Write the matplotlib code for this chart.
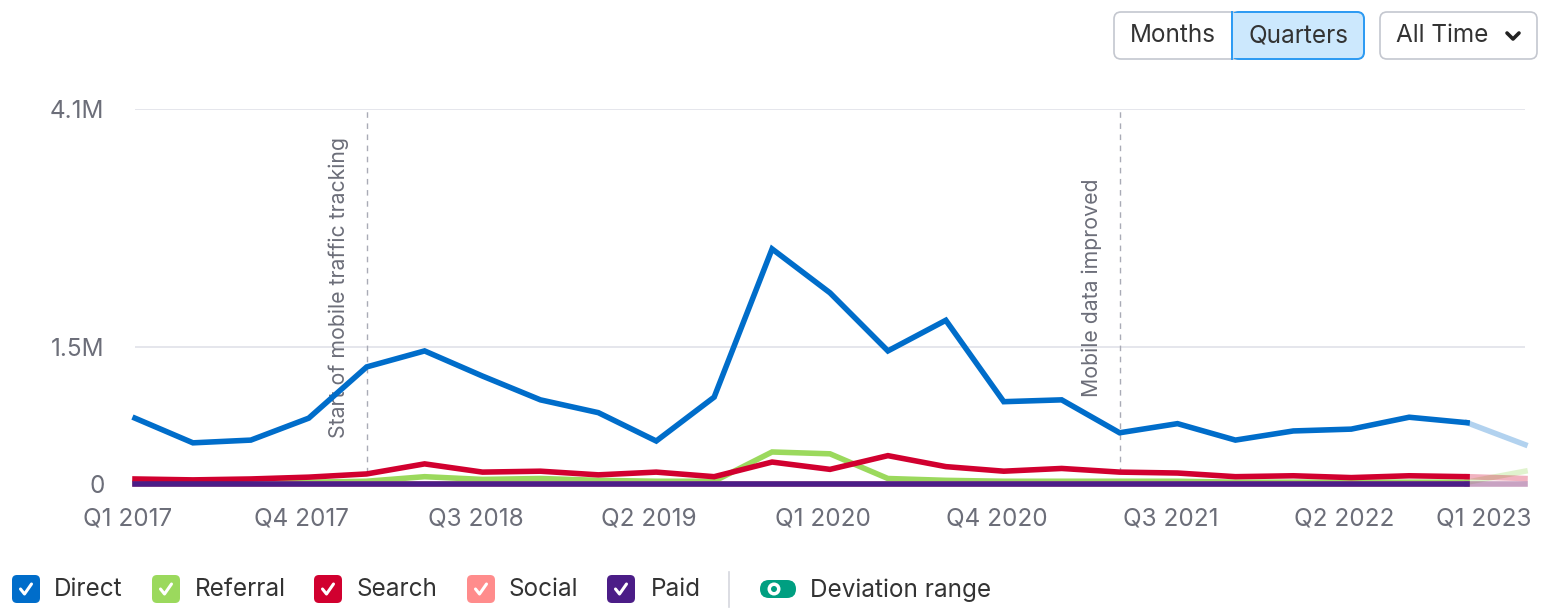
import matplotlib.pyplot as plt
import matplotlib.transforms as mtrans
from matplotlib.patches import FancyBboxPatch, Circle, Rectangle

plt.rcParams['font.family'] = ['Inter', 'DejaVu Sans']

# ---------------- data (millions) ----------------
quarters = ['Q1 2017', 'Q2 2017', 'Q3 2017', 'Q4 2017', 'Q1 2018', 'Q2 2018', 'Q3 2018',
            'Q4 2018', 'Q1 2019', 'Q2 2019', 'Q3 2019', 'Q4 2019', 'Q1 2020', 'Q2 2020',
            'Q3 2020', 'Q4 2020', 'Q1 2021', 'Q2 2021', 'Q3 2021', 'Q4 2021', 'Q1 2022',
            'Q2 2022', 'Q3 2022', 'Q4 2022', 'Q1 2023']
direct = [0.72, 0.45, 0.48, 0.72, 1.28, 1.455, 1.18, 0.92, 0.78, 0.47, 0.95, 2.57, 2.09,
          1.455, 1.79, 0.90, 0.92, 0.56, 0.66, 0.48, 0.58, 0.60, 0.73, 0.67, 0.43]
search = [0.055, 0.045, 0.055, 0.075, 0.11, 0.22, 0.13, 0.14, 0.10, 0.13, 0.08, 0.24, 0.16,
          0.31, 0.19, 0.14, 0.17, 0.13, 0.12, 0.08, 0.09, 0.07, 0.09, 0.08, 0.06]
referral = [0.01, 0.01, 0.015, 0.02, 0.03, 0.08, 0.05, 0.06, 0.04, 0.03, 0.03, 0.35, 0.33,
            0.06, 0.04, 0.03, 0.03, 0.03, 0.03, 0.02, 0.02, 0.02, 0.02, 0.02, 0.14]
social = [0.005] * 25
paid = [0.0] * 25

tick_idx = [0, 3, 6, 9, 12, 15, 18, 21, 24]
ytick_vals = [0, 1.5, 4.1]
ytick_labels = ['0', '1.5M', '4.1M']
notes = [(4, 'Start of mobile traffic tracking', 0.50), (17, 'Mobile data improved', 0.95)]

C_DIRECT = '#006dca'
C_REF = '#9bd95d'
C_SEARCH = '#d1002f'
C_SOCIAL = '#ff8c8c'
C_PAID = '#4b1d87'
GRAY = '#6c6e79'
FS = 17.5

W, H = 1562, 609
fig = plt.figure(figsize=(W / 100, H / 100), dpi=100)

# overlay in pixel coords for buttons / legend
ov = fig.add_axes([0, 0, 1, 1])
ov.set_xlim(0, W)
ov.set_ylim(H, 0)
ov.axis('off')

ax = fig.add_axes([135 / W, (H - 484) / H, 1390 / W, 375 / H])
x = list(range(len(quarters)))

series = [(referral, C_REF, 2), (social, C_SOCIAL, 3), (search, C_SEARCH, 4),
          (paid, C_PAID, 5), (direct, C_DIRECT, 6)]
for vals, col, z in series:
    ax.plot(x[:-1], vals[:-1], color=col, lw=4.0, zorder=z, clip_on=False,
            solid_joinstyle='miter')
    ax.plot(x[-2:], vals[-2:], color=col, lw=4.0, alpha=0.3, zorder=z, clip_on=False)

for v in ytick_vals[1:]:
    ax.axhline(v, color='#e0e1e9', lw=1.2, zorder=0)

for idx, label, ypos in notes:
    ax.axvline(idx, color='#a9abb6', lw=1, ls=(0, (4, 4)), zorder=1)
    ax.text(idx - 0.3, ypos, label, rotation=90, ha='right', va='bottom',
            fontsize=15.3, color=GRAY)

ax.set_xlim(0, 24)
ax.set_ylim(0, 4.1)
ax.set_yticks(ytick_vals)
ax.set_yticklabels(ytick_labels)
ax.set_xticks(tick_idx)
ax.set_xticklabels([quarters[i] for i in tick_idx])
ax.tick_params(length=0, labelsize=FS, labelcolor=GRAY)
ax.tick_params(axis='y', pad=22)
ax.tick_params(axis='x', pad=17)
xl = ax.get_xticklabels()
shift = mtrans.ScaledTranslation(-7 / 100, 0, fig.dpi_scale_trans)
for lab in xl[:-1]:
    lab.set_transform(lab.get_transform() + shift)
xl[-1].set_ha('right')
xl[-1].set_transform(xl[-1].get_transform() + mtrans.ScaledTranslation(7 / 100, 0, fig.dpi_scale_trans))
for s in ax.spines.values():
    s.set_visible(False)
ax.patch.set_alpha(0)

# ---------------- buttons ----------------
ov.add_patch(FancyBboxPatch((1114, 12), 250, 47, boxstyle='round,pad=0,rounding_size=7',
                            fc='white', ec='#c4c7cf', lw=1.2))
ov.add_patch(FancyBboxPatch((1232, 12), 132, 47, boxstyle='round,pad=0,rounding_size=7',
                            fc='#cce8fd', ec='#2b9af3', lw=1.4))
ov.add_patch(Rectangle((1232, 12.7), 8, 45.6, fc='#cce8fd', ec='none'))
ov.plot([1232, 1232], [12, 59], color='#2b9af3', lw=1.4)
ov.text(1173, 36, 'Months', ha='center', va='center', fontsize=FS, color='#333333')
ov.text(1298, 36, 'Quarters', ha='center', va='center', fontsize=FS, color='#333333')
ov.add_patch(FancyBboxPatch((1380, 12), 157, 47, boxstyle='round,pad=0,rounding_size=7',
                            fc='white', ec='#c4c7cf', lw=1.2))
ov.text(1396, 35, 'All Time', ha='left', va='center', fontsize=FS, color='#333333')
ov.plot([1507, 1513, 1519], [33, 39, 33], color='#222222', lw=2.6,
        solid_capstyle='round', solid_joinstyle='round')

# ---------------- legend ----------------
legend_items = [('Direct', C_DIRECT, 12, 54), ('Referral', C_REF, 152, 195),
                ('Search', C_SEARCH, 314, 357), ('Social', C_SOCIAL, 467, 509),
                ('Paid', C_PAID, 607, 651)]
ly = 589
for name, col, bx, tx in legend_items:
    ov.add_patch(FancyBboxPatch((bx, ly - 14), 28, 28, boxstyle='round,pad=0,rounding_size=5',
                                fc=col, ec='none'))
    ov.plot([bx + 8.5, bx + 12.5, bx + 19.5], [ly, ly + 5, ly - 5], color='white', lw=2.2,
            solid_capstyle='round', solid_joinstyle='round')
    ov.text(tx, ly + 1, name, ha='left', va='center', fontsize=FS, color='#333333')

ov.plot([729, 729], [572, 607], color='#d5d7de', lw=1.2)
ov.add_patch(FancyBboxPatch((760, ly - 9), 36, 18, boxstyle='round,pad=0,rounding_size=9',
                            fc='#009f81', ec='none'))
ov.add_patch(Circle((774, ly), 6.5, fc='white', ec='none'))
ov.add_patch(Circle((774, ly), 3.0, fc='#009f81', ec='none'))
ov.text(810, ly + 1, 'Deviation range', ha='left', va='center', fontsize=FS, color='#333333')

fig.savefig('out.png', dpi=100)
